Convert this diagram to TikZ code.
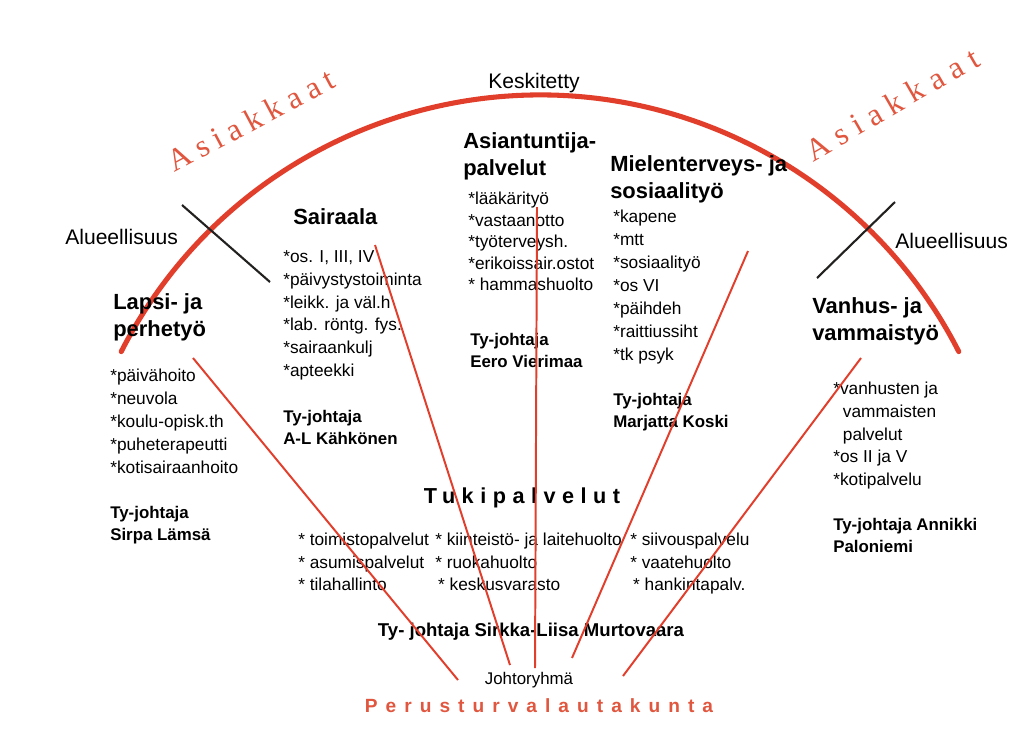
\documentclass[tikz,border=0pt]{standalone}
\usepackage{fontspec}
\setmainfont{Liberation Sans}
\newfontfamily\asiakasfont{Liberation Serif}
\usetikzlibrary{positioning}

\definecolor{kaari}{RGB}{226,62,44}
\definecolor{punainen}{RGB}{224,86,62}
\definecolor{musta}{RGB}{35,32,32}

\tikzset{
  otsikko/.style={anchor=north west, inner sep=0pt, align=left,
                  font=\bfseries\fontsize{15.6}{19.5}\selectfont},
  lista/.style={anchor=north west, inner sep=0pt, align=left,
                font=\fontsize{12.3}{16.3}\selectfont},
  johtaja/.style={anchor=north west, inner sep=0pt, align=left,
                  font=\bfseries\fontsize{12}{15.6}\selectfont},
  raja/.style={anchor=north west, inner sep=0pt, font=\fontsize{15}{18}\selectfont},
  asiakas/.style={text=punainen, inner sep=0pt,
                  font=\asiakasfont\fontsize{22.5}{24}\selectfont},
  sade/.style={draw=kaari, line width=1.4pt},
  risti/.style={draw=musta, line width=1.5pt},
}

\begin{document}
\begin{tikzpicture}[x=0.025cm, y=-0.025cm]
  \useasboundingbox (0,0) rectangle (1031,733);

  % kaari ja otsikot sen ympärillä
  \coordinate (keskus) at (540,565);
  \draw[kaari, line width=3.6pt, line cap=round]
    (keskus) ++(207:470) arc[start angle=207, end angle=333, radius=470];
  \node[font=\fontsize{15}{18}\selectfont, anchor=north, inner sep=0pt] (keskitetty) at (534,73) {Keskitetty};

  \node[asiakas, rotate=28] (asiakasvas) at (251,120)
    {\addfontfeatures{LetterSpace=23}Asiakkaat};
  \node[asiakas, rotate=30] (asiakasoik) at (892,104)
    {\addfontfeatures{LetterSpace=27}Asiakkaat};

  \node[raja] (aluevas) at (65,229) {Alueellisuus};
  \node[raja] (alueoik) at (895,233) {Alueellisuus};
  \coordinate (rv1) at (182,205); \coordinate (rv2) at (270,282);
  \coordinate (ro1) at (895,202); \coordinate (ro2) at (817,278);
  \draw[risti] (rv1) -- (rv2);
  \draw[risti] (ro1) -- (ro2);

  % Lapsi- ja perhetyö
  \node[otsikko] (lapsi) at (113,293) {Lapsi- ja\\perhetyö};
  \node[lista] (lapsilista) at (110,369)
    {*päivähoito\\*neuvola\\*koulu-opisk.th\\*puheterapeutti\\*kotisairaanhoito};
  \node[johtaja] (lapsijoht) at (110,506) {Ty-johtaja\\Sirpa Lämsä};

  % Sairaala
  \node[otsikko] (sairaala) at (293,208) {Sairaala};
  \node[lista] (sairaalalista) at (283,250)
    {*os. I, III, IV\\*päivystystoiminta\\*leikk. ja väl.h\\*lab. röntg. fys.\\*sairaankulj\\*apteekki};
  \node[johtaja] (sairaalajoht) at (283,410) {Ty-johtaja\\A-L Kähkönen};

  % Asiantuntijapalvelut
  \node[otsikko] (asiantuntija) at (463,132) {Asiantuntija-\\palvelut};
  \node[lista, font=\fontsize{12.3}{15.3}\selectfont] (asiantuntijalista) at (468,192)
    {*lääkärityö\\*vastaanotto\\*työterveysh.\\*erikoissair.ostot\\* hammashuolto};
  \node[johtaja] (asiantuntijajoht) at (470,333) {Ty-johtaja\\Eero Vierimaa};

  % Mielenterveys- ja sosiaalityö
  \node[otsikko] (mielenterveys) at (610,155) {Mielenterveys- ja\\sosiaalityö};
  \node[lista] (mielilista) at (613,210)
    {*kapene\\*mtt\\*sosiaalityö\\*os VI\\*päihdeh\\*raittiussiht\\*tk psyk};
  \node[johtaja] (mielijoht) at (613,393) {Ty-johtaja\\Marjatta Koski};

  % Vanhus- ja vammaistyö
  \node[otsikko] (vanhus) at (812,297) {Vanhus- ja\\vammaistyö};
  \node[lista, font=\fontsize{12.3}{16.1}\selectfont] (vanhuslista) at (833,382)
    {*vanhusten ja\\\phantom{*}\,vammaisten\\\phantom{*}\,palvelut\\*os II ja V\\*kotipalvelu};
  \node[johtaja] (vanhusjoht) at (833,518) {Ty-johtaja Annikki\\Paloniemi};

  % Tukipalvelut
  \node[anchor=north, inner sep=0pt,
        font=\bfseries\fontsize{15.4}{18}\selectfont\addfontfeatures{LetterSpace=30}]
    (tuki) at (522,488) {Tukipalvelut};
  \node[lista, font=\fontsize{12.3}{16}\selectfont] (tuki1) at (298,533)
    {* toimistopalvelut\\* asumispalvelut\\* tilahallinto};
  \node[lista, font=\fontsize{12.3}{16}\selectfont] (tuki2) at (435,533)
    {* kiinteistö- ja laitehuolto\\* ruokahuolto\\\,* keskusvarasto};
  \node[lista, font=\fontsize{12.3}{16}\selectfont] (tuki3) at (630,533)
    {* siivouspalvelu\\* vaatehuolto\\\,* hankintapalv.};
  \node[johtaja, anchor=north, font=\bfseries\fontsize{13.2}{16}\selectfont]
    (tukijoht) at (531,623) {Ty- johtaja Sirkka-Liisa Murtovaara};

  \node[anchor=north, inner sep=0pt, font=\fontsize{12}{14}\selectfont]
    (johtoryhma) at (529,672) {Johtoryhmä};
  \node[anchor=north, inner sep=0pt, text=punainen,
        font=\bfseries\fontsize{13.6}{16}\selectfont\addfontfeatures{LetterSpace=42}]
    (lautakunta) at (539,698) {Perusturvalautakunta};

  % säteet johtoryhmästä
  \coordinate (s1a) at (193,358); \coordinate (s1b) at (458,680);
  \coordinate (s2a) at (375,245); \coordinate (s2b) at (510,665);
  \coordinate (s3a) at (537,207); \coordinate (s3b) at (535,668);
  \coordinate (s4a) at (748,251); \coordinate (s4b) at (572,658);
  \coordinate (s5a) at (861,358); \coordinate (s5b) at (623,676);
  \foreach \s in {1,...,5}
    \draw[sade] (s\s a) -- (s\s b);
\end{tikzpicture}
\end{document}
